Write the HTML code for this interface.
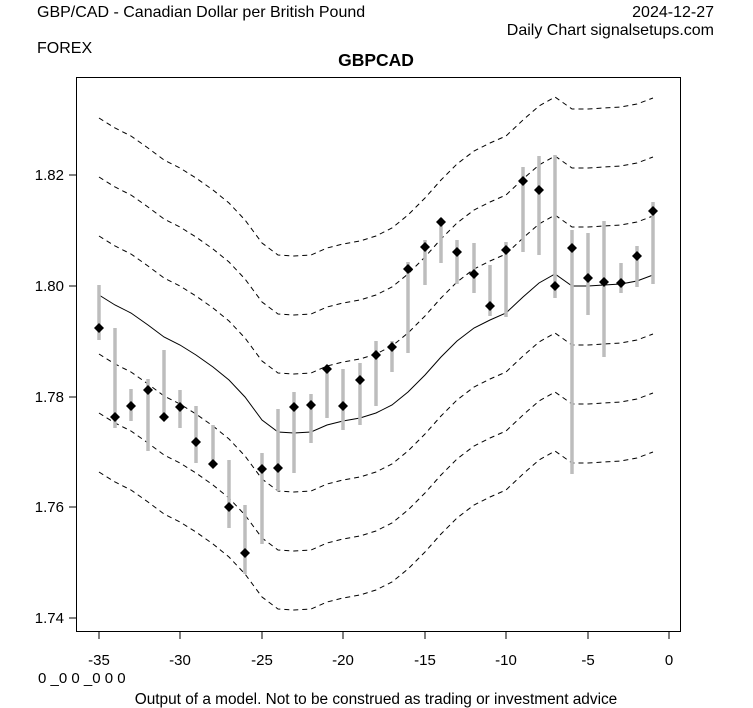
<!DOCTYPE html>
<html><head><meta charset="utf-8"><style>
body{margin:0;background:#fff}
svg{display:block;font-family:"Liberation Sans",Arial,sans-serif}
</style></head><body>
<svg width="753" height="708" viewBox="0 0 753 708" xmlns="http://www.w3.org/2000/svg">
<rect width="753" height="708" fill="#fff"/>
<text x="37" y="17" font-size="16">GBP/CAD - Canadian Dollar per British Pound</text>
<text x="714" y="17" font-size="16" text-anchor="end">2024-12-27</text>
<text x="714" y="35" font-size="16" text-anchor="end">Daily Chart signalsetups.com</text>
<text x="37" y="53" font-size="16">FOREX</text>
<text x="376" y="66" font-size="17.5" font-weight="bold" text-anchor="middle">GBPCAD</text>
<rect x="76.5" y="77.5" width="604" height="554" fill="none" stroke="#000" stroke-width="1"/>
<g stroke="#000" stroke-width="1">
<line x1="76" y1="175" x2="69" y2="175"/><line x1="76" y1="286" x2="69" y2="286"/><line x1="76" y1="397" x2="69" y2="397"/><line x1="76" y1="507" x2="69" y2="507"/><line x1="76" y1="618" x2="69" y2="618"/>
<line x1="99" y1="632" x2="99" y2="639"/><line x1="180" y1="632" x2="180" y2="639"/><line x1="262" y1="632" x2="262" y2="639"/><line x1="343" y1="632" x2="343" y2="639"/><line x1="425" y1="632" x2="425" y2="639"/><line x1="506" y1="632" x2="506" y2="639"/><line x1="588" y1="632" x2="588" y2="639"/><line x1="669" y1="632" x2="669" y2="639"/>
</g>
<g font-size="15" text-anchor="end">
<text x="64" y="180">1.82</text><text x="64" y="291">1.80</text><text x="64" y="402">1.78</text><text x="64" y="512">1.76</text><text x="64" y="623">1.74</text>
</g>
<g font-size="15" text-anchor="middle">
<text x="99" y="665">-35</text><text x="180" y="665">-30</text><text x="262" y="665">-25</text><text x="343" y="665">-20</text><text x="425" y="665">-15</text><text x="506" y="665">-10</text><text x="588" y="665">-5</text><text x="669" y="665">0</text>
</g>
<text x="38" y="683" font-size="15">0 _0 0 _0 0 0</text>
<text x="376" y="704" font-size="15.4" text-anchor="middle">Output of a model. Not to be construed as trading or investment advice</text>
<defs>
<polyline id="c" fill="none" points="99,295 115,305 131,313 148,325 164,337 180,345 196,355 213,367 229,380 245,397 262,420 278,432 294,433 311,432 327,425 343,421 360,418 376,413 392,405 408,392 425,375 441,357 457,341 474,328 490,320 506,313 523,297 539,283 555,274 572,286 588,286 604,285 621,284 637,281 653,275"/>
</defs>
<g stroke="#000" stroke-width="1" fill="none">
<use href="#c"/>
<g stroke-dasharray="5,4">
<use href="#c" transform="translate(0,-59)"/><use href="#c" transform="translate(0,-118)"/><use href="#c" transform="translate(0,-177)"/>
<use href="#c" transform="translate(0,59)"/><use href="#c" transform="translate(0,118)"/><use href="#c" transform="translate(0,177)"/>
</g>
</g>
<g stroke="#bdbdbd" stroke-width="3.5">
<line x1="99" y1="285" x2="99" y2="340"/><line x1="115" y1="328" x2="115" y2="428"/><line x1="131" y1="389" x2="131" y2="421"/><line x1="148" y1="379" x2="148" y2="451"/><line x1="164" y1="350" x2="164" y2="418"/><line x1="180" y1="390" x2="180" y2="428"/><line x1="196" y1="406" x2="196" y2="463"/><line x1="213" y1="425" x2="213" y2="466"/><line x1="229" y1="460" x2="229" y2="528"/><line x1="245" y1="505" x2="245" y2="574"/><line x1="262" y1="453" x2="262" y2="544"/><line x1="278" y1="409" x2="278" y2="491"/><line x1="294" y1="392" x2="294" y2="473"/><line x1="311" y1="394" x2="311" y2="443"/><line x1="327" y1="366" x2="327" y2="418"/><line x1="343" y1="369" x2="343" y2="430"/><line x1="360" y1="363" x2="360" y2="425"/><line x1="376" y1="341" x2="376" y2="406"/><line x1="392" y1="341" x2="392" y2="372"/><line x1="408" y1="262" x2="408" y2="353"/><line x1="425" y1="240" x2="425" y2="285"/><line x1="441" y1="218" x2="441" y2="263"/><line x1="457" y1="240" x2="457" y2="284"/><line x1="474" y1="243" x2="474" y2="293"/><line x1="490" y1="265" x2="490" y2="316"/><line x1="506" y1="242" x2="506" y2="317"/><line x1="523" y1="167" x2="523" y2="252"/><line x1="539" y1="156" x2="539" y2="255"/><line x1="555" y1="155" x2="555" y2="298"/><line x1="572" y1="230" x2="572" y2="474"/><line x1="588" y1="233" x2="588" y2="315"/><line x1="604" y1="221" x2="604" y2="357"/><line x1="621" y1="263" x2="621" y2="293"/><line x1="637" y1="246" x2="637" y2="287"/><line x1="653" y1="202" x2="653" y2="284"/>
</g>
<defs><path id="d" d="M0,-5 L5,0 L0,5 L-5,0 Z" fill="#000"/></defs>
<g>
<use href="#d" x="99" y="328"/><use href="#d" x="115" y="417"/><use href="#d" x="131" y="406"/><use href="#d" x="148" y="390"/><use href="#d" x="164" y="417"/><use href="#d" x="180" y="407"/><use href="#d" x="196" y="442"/><use href="#d" x="213" y="464"/><use href="#d" x="229" y="507"/><use href="#d" x="245" y="553"/><use href="#d" x="262" y="469"/><use href="#d" x="278" y="468"/><use href="#d" x="294" y="407"/><use href="#d" x="311" y="405"/><use href="#d" x="327" y="369"/><use href="#d" x="343" y="406"/><use href="#d" x="360" y="380"/><use href="#d" x="376" y="355"/><use href="#d" x="392" y="347"/><use href="#d" x="408" y="269"/><use href="#d" x="425" y="247"/><use href="#d" x="441" y="222"/><use href="#d" x="457" y="252"/><use href="#d" x="474" y="274"/><use href="#d" x="490" y="306"/><use href="#d" x="506" y="250"/><use href="#d" x="523" y="181"/><use href="#d" x="539" y="190"/><use href="#d" x="555" y="286"/><use href="#d" x="572" y="248"/><use href="#d" x="588" y="278"/><use href="#d" x="604" y="282"/><use href="#d" x="621" y="283"/><use href="#d" x="637" y="256"/><use href="#d" x="653" y="211"/>
</g>
</svg>
</body></html>
